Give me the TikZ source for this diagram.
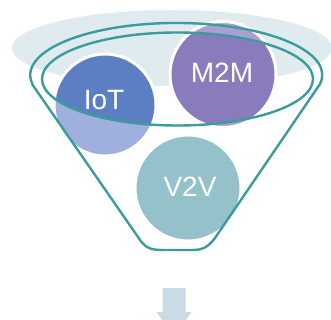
\documentclass[tikz,border=0pt]{standalone}
\usepackage{fontspec}
\setmainfont{Liberation Sans}
\definecolor{pale}{HTML}{E0EBEF}
\definecolor{tealline}{HTML}{3B9B9D}
\definecolor{iotdark}{HTML}{5B7FC2}
\definecolor{iotlight}{HTML}{A0B0DE}
\definecolor{mdark}{HTML}{8A7BBD}
\definecolor{mlight}{HTML}{AA9FD2}
\definecolor{vcol}{HTML}{95C1CA}
\definecolor{arrowc}{HTML}{C9DCE6}
\begin{document}
\begin{tikzpicture}[x=1pt,y=-1pt,
  ball/.style={circle, draw=white, line width=3pt, inner sep=0pt},
  balltext/.style={text=white, inner sep=0pt, font=\fontsize{28}{28}\selectfont},
  rimline/.style={draw=tealline, line width=2.4pt, line join=round}]
\useasboundingbox (0,0) rectangle (331,320);
\clip (0,0) rectangle (331,320);
\coordinate (rim) at (177.5,79);
% pale halo
\fill[pale] (172,48) ellipse [x radius=160, y radius=38];
% circles
\node[ball, fill=iotlight, minimum size=102pt,
  path picture={\fill[iotdark] (rim) ellipse [x radius=135.5, y radius=46.5];}]
  (iot) at (105,105) {};
\node[ball, fill=mlight, minimum size=106pt,
  path picture={\fill[mdark] (rim) ellipse [x radius=135.5, y radius=46.5];}]
  (m2m) at (223,74.5) {};
\node[ball, fill=vcol, minimum size=106pt] (v2v) at (188,188) {};
% funnel outline
\draw[rimline] (32,84) -- (138,237) .. controls (145,248) and (150,250) .. (163,250)
  -- (192,250) .. controls (203,250) and (208,247) .. (215,238) -- (320,84)
  arc[start angle=10, end angle=-190, x radius=146, y radius=52] -- cycle;
% inner rim
\draw[rimline] (rim) ellipse [x radius=135.5, y radius=46.5];
% labels
\node[balltext] (iottext) at (104,100.5) {IoT};
\node[balltext] (m2mtext) at (222,72.5) {M2M};
\node[balltext] (v2vtext) at (190,186.5) {V2V};
% arrow
\fill[arrowc] (162.5,288) -- (185.5,288) -- (185.5,312) -- (191.5,312) -- (174,337)
  -- (156.5,312) -- (162.5,312) -- cycle;
\end{tikzpicture}
\end{document}
